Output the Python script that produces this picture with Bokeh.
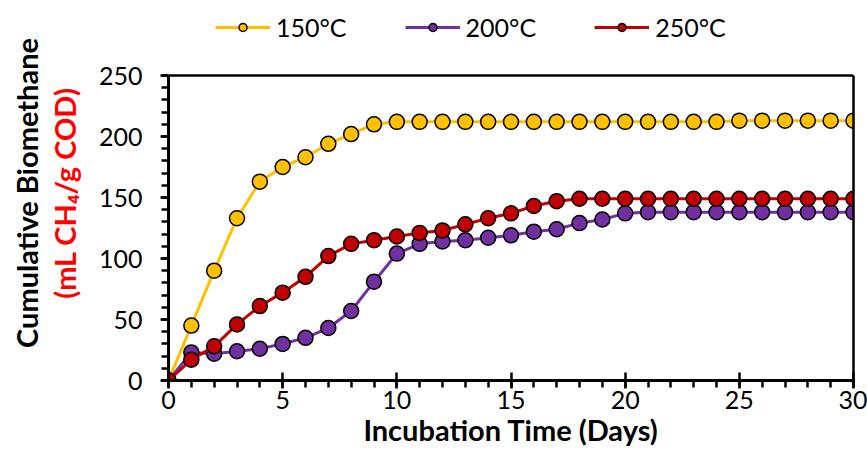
from bokeh.plotting import figure
from bokeh.models import (Legend, LegendItem, LinearAxis, Span, Range1d,
                          SingleIntervalTicker, FixedTicker)
from bokeh.embed import file_html
from bokeh.resources import INLINE

days = list(range(0, 31))
t150 = [0, 45, 90, 133, 163, 175, 183, 194, 202, 210, 212, 212, 212, 212, 212, 212,
        212, 212, 212, 212, 212, 212, 212, 212, 212, 213, 213, 213, 213, 213, 213]
t200 = [0, 23, 22, 24, 26, 30, 35, 43, 57, 81, 104, 112, 114, 115, 117, 119,
        122, 124, 129, 132, 137, 138, 138, 138, 138, 138, 138, 138, 138, 138, 138]
t250 = [0, 17, 28, 46, 61, 72, 85, 102, 112, 115, 118, 121, 123, 128, 133, 137,
        143, 147, 149, 149, 149, 149, 149, 149, 149, 149, 149, 149, 149, 149, 149]
labels = ["150°C", "200°C", "250°C"]
colors = ["#FFC000", "#7030A0", "#C00000"]
X_MAX = 30
Y_MAX = 250

FONT = "Lato"

# plot frame extends above the axis box so the legend can sit inside it
FRAME_TOP = 5
BOX_TOP = 75
BOX_BOTTOM = 380
y_end = Y_MAX + (BOX_TOP - FRAME_TOP) * Y_MAX / (BOX_BOTTOM - BOX_TOP)

p = figure(width=867, height=476, output_backend="svg", toolbar_location=None,
           x_range=Range1d(0, X_MAX), y_range=Range1d(0, y_end),
           min_border_left=168, min_border_right=14, min_border_top=FRAME_TOP,
           min_border_bottom=476 - BOX_BOTTOM)
p.grid.visible = False
p.outline_line_color = None

items = []
for ys, lab, c in zip([t150, t200, t250], labels, colors):
    r1 = p.line(days, ys, line_color=c, line_width=3)
    r2 = p.scatter(days, ys, size=15, fill_color=c, line_color="black", line_width=1.5)
    items.append(LegendItem(label=lab, renderers=[r1, r2]))

# box top edge
p.add_layout(Span(location=Y_MAX, dimension="width", line_color="black", line_width=2.5))

# x axis
xa = p.xaxis[0]
xa.ticker = SingleIntervalTicker(interval=5, num_minor_ticks=5)
xa.axis_line_width = 3
xa.major_tick_line_width = 2.5
xa.minor_tick_line_width = 2.5
xa.major_tick_in = 8
xa.major_tick_out = 8
xa.minor_tick_in = 0
xa.minor_tick_out = 7
xa.major_label_text_font = FONT
xa.major_label_text_font_size = "25px"
xa.major_label_text_color = "black"
xa.major_label_standoff = 2
xa.axis_label = "Incubation Time (Days)"
xa.axis_label_text_font = FONT
xa.axis_label_text_font_style = "bold"
xa.axis_label_text_font_size = "29px"
xa.axis_label_text_color = "black"
xa.axis_label_standoff = 0

# y axis (tick labels + red unit line)
ya = p.yaxis[0]
ya.bounds = (0, Y_MAX)
ya.ticker = SingleIntervalTicker(interval=50, num_minor_ticks=5)
ya.axis_line_width = 3
ya.major_tick_line_width = 2.5
ya.minor_tick_line_width = 2.5
ya.major_tick_in = 0
ya.major_tick_out = 8
ya.minor_tick_in = 0
ya.minor_tick_out = 7
ya.major_label_text_font = FONT
ya.major_label_text_font_size = "25px"
ya.major_label_text_color = "black"
ya.major_label_standoff = 18
ya.axis_label = "(mL CH\u2084/g COD)"
ya.axis_label_text_color = "#FF0000"
ya.axis_label_text_font = FONT
ya.axis_label_text_font_style = "bold"
ya.axis_label_text_font_size = "29px"
ya.axis_label_standoff = 14

# second left axis: only carries the black title line
ya2 = LinearAxis(bounds=(0, Y_MAX), ticker=FixedTicker(ticks=[]))
ya2.axis_line_color = None
ya2.major_tick_line_color = None
ya2.minor_tick_line_color = None
ya2.major_tick_in = 0
ya2.major_tick_out = 0
ya2.minor_tick_in = 0
ya2.minor_tick_out = 0
ya2.major_label_standoff = 0
ya2.axis_label = "Cumulative Biomethane"
ya2.axis_label_text_font = FONT
ya2.axis_label_text_font_style = "bold"
ya2.axis_label_text_font_size = "29px"
ya2.axis_label_text_color = "black"
ya2.axis_label_standoff = 0
p.add_layout(ya2, "left")

# right box edge
yr = LinearAxis(bounds=(0, Y_MAX), ticker=FixedTicker(ticks=[]))
yr.axis_line_width = 2.5
yr.major_tick_line_color = None
yr.minor_tick_line_color = None
yr.major_tick_in = 0
yr.major_tick_out = 0
yr.minor_tick_in = 0
yr.minor_tick_out = 0
yr.major_label_standoff = 0
p.add_layout(yr, "right")

legend = Legend(items=items, orientation="horizontal",
                location=(47, BOX_BOTTOM - 42),
                glyph_width=55, label_standoff=6, spacing=58,
                label_text_font=FONT, label_text_font_size="25px",
                label_text_color="black", padding=4, margin=0,
                border_line_color=None, background_fill_alpha=0)
p.add_layout(legend, "center")

open("out.html", "w").write(file_html(p, INLINE))
